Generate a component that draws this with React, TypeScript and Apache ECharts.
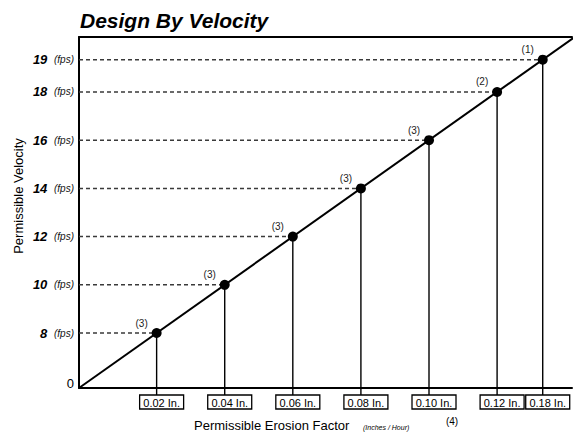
import React, { useEffect, useRef } from "react";
import * as echarts from "echarts";

// ---- data ----
const erosionLabels = ["0.02 In.", "0.04 In.", "0.06 In.", "0.08 In.", "0.10 In.", "0.12 In.", "0.18 In."];
const velocities = [8, 10, 12, 14, 16, 18, 19];
const notes = ["(3)", "(3)", "(3)", "(3)", "(3)", "(2)", "(1)"];

// schematic (ordinal) axes: each reading sits on its own slot, the last one is drawn compressed
const AXIS_MIN = -0.14;
const X_MAX = 7.1;
const Y_MAX = 7.14;
const LAST_SLOT_GAP = 0.67;
const slotOf = (i: number) => (i < velocities.length - 1 ? i + 1 : i + LAST_SLOT_GAP);

const FONT = "Arial, 'Liberation Sans', Helvetica, sans-serif";

export default function App() {
  const ref = useRef<HTMLDivElement>(null);

  useEffect(() => {
    if (!ref.current) return;
    const chart = echarts.init(ref.current, undefined, { renderer: "svg" });

    const points = velocities.map((v, i) => [slotOf(i), slotOf(i), v, i]);
    const yValues = [AXIS_MIN, ...velocities.map((_, i) => slotOf(i))];
    const velocityAt = (val: number) => {
      const idx = velocities.findIndex((_, i) => Math.abs(slotOf(i) - val) < 1e-6);
      return idx >= 0 ? velocities[idx] : null;
    };

    chart.setOption({
      animation: false,
      backgroundColor: "#ffffff",
      title: {
        text: "Design By Velocity",
        left: 80,
        top: 10,
        padding: 0,
        textStyle: { fontFamily: FONT, fontSize: 21, fontWeight: "bold", fontStyle: "italic", color: "#000" },
      },
      grid: { left: 79, right: 1, top: 37, bottom: 44, containLabel: false },
      xAxis: [
        {
          type: "value",
          min: AXIS_MIN,
          max: X_MAX,
          axisLine: { show: true, onZero: false, lineStyle: { color: "#000", width: 2 } },
          axisTick: { show: false },
          axisLabel: { show: false },
          splitLine: { show: false },
        },
        {
          type: "value",
          position: "top",
          min: AXIS_MIN,
          max: X_MAX,
          axisLine: { show: true, onZero: false, lineStyle: { color: "#000", width: 2 } },
          axisTick: { show: false },
          axisLabel: { show: false },
          splitLine: { show: false },
        },
      ],
      yAxis: {
        type: "value",
        min: AXIS_MIN,
        max: Y_MAX,
        axisLine: { show: true, onZero: false, lineStyle: { color: "#000", width: 2 } },
        axisTick: { show: false },
        splitLine: { show: false },
        axisLabel: {
          customValues: yValues,
          margin: 5,
          showMinLabel: true,
          showMaxLabel: true,
          formatter: (val: number) => {
            const v = velocityAt(val);
            if (v === null) return "{z|0}";
            return `{b|${v}}  {u|(fps)}`;
          },
          rich: {
            b: { fontFamily: FONT, fontSize: 13, fontWeight: "bold", fontStyle: "italic", color: "#000" },
            u: { fontFamily: FONT, fontSize: 10, fontStyle: "italic", color: "#111" },
            z: { fontFamily: FONT, fontSize: 13, color: "#000", padding: [0, 0, 10, 0] },
          },
        },
      },
      graphic: [
        {
          type: "text",
          x: 18,
          y: 196,
          rotation: Math.PI / 2,
          style: {
            text: "Permissible Velocity",
            font: `13px ${FONT}`,
            fill: "#000",
            align: "center",
            verticalAlign: "middle",
          },
        },
        {
          type: "text",
          x: 194,
          y: 425,
          style: {
            text: "Permissible Erosion Factor",
            font: `13px ${FONT}`,
            fill: "#000",
            align: "left",
            verticalAlign: "middle",
          },
        },
        {
          type: "text",
          x: 363,
          y: 427,
          style: {
            text: "(Inches / Hour)",
            fontFamily: FONT,
            fontSize: 7,
            fontStyle: "italic",
            fill: "#000",
            align: "left",
            verticalAlign: "middle",
          },
        },
        {
          type: "text",
          x: 452,
          y: 421,
          style: { text: "(4)", font: `10px ${FONT}`, fill: "#000", align: "center", verticalAlign: "middle" },
        },
      ],
      series: [
        {
          type: "line",
          xAxisIndex: 0,
          data: [
            [AXIS_MIN, AXIS_MIN],
            [Y_MAX, Y_MAX],
          ],
          symbol: "none",
          clip: true,
          lineStyle: { color: "#000", width: 2 },
          z: 2,
          silent: true,
        },
        {
          type: "custom",
          xAxisIndex: 0,
          data: points,
          z: 5,
          clip: false,
          renderItem: (params: any, api: any) => {
            const idx = api.value(3);
            const p = api.coord([api.value(0), api.value(1)]);
            const cs = params.coordSys;
            const bottom = cs.y + cs.height;
            const boxTop = bottom + 7;
            const boxLeft = p[0] - 17;
            return {
              type: "group",
              children: [
                {
                  type: "line",
                  shape: { x1: cs.x, y1: p[1], x2: p[0], y2: p[1] },
                  style: { stroke: "#3a3a3a", lineWidth: 1.5, lineDash: [4, 3] },
                },
                {
                  type: "line",
                  shape: { x1: p[0], y1: p[1], x2: p[0], y2: boxTop },
                  style: { stroke: "#000", lineWidth: 1.4 },
                },
                {
                  type: "circle",
                  shape: { cx: p[0], cy: p[1], r: 5 },
                  style: { fill: "#000" },
                },
                {
                  type: "text",
                  x: p[0] - 15,
                  y: p[1] - 10,
                  style: {
                    text: notes[idx],
                    font: `10px ${FONT}`,
                    fill: "#222",
                    align: "center",
                    verticalAlign: "middle",
                  },
                },
                {
                  type: "rect",
                  shape: { x: boxLeft, y: boxTop, width: 44, height: 14 },
                  style: { fill: "#fff", stroke: "#000", lineWidth: 1.3 },
                },
                {
                  type: "text",
                  x: boxLeft + 22,
                  y: boxTop + 7.5,
                  style: {
                    text: erosionLabels[idx],
                    font: `11px ${FONT}`,
                    fill: "#000",
                    align: "center",
                    verticalAlign: "middle",
                  },
                },
              ],
            };
          },
        },
      ],
    });

    return () => chart.dispose();
  }, []);

  return (
    <div
      ref={ref}
      style={{ position: "fixed", left: 0, top: 0, width: 573, height: 432, background: "#fff" }}
    />
  );
}
